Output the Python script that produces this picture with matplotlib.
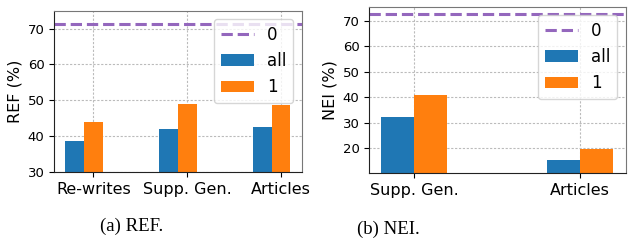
import matplotlib
matplotlib.use("Agg")
import matplotlib.pyplot as plt
import numpy as np

# Left panel (REF)
ref_categories = ["Re-writes", "Supp. Gen.", "Articles"]
ref_all = [38.7, 42.0, 42.6]
ref_one = [44.0, 49.0, 48.7]
ref_zero = 71.2

# Right panel (NEI)
nei_categories = ["Supp. Gen.", "Articles"]
nei_all = [32.3, 15.4]
nei_one = [40.9, 19.7]
nei_zero = 72.5

BLUE = "#1f77b4"
ORANGE = "#ff7f0e"
PURPLE = "#9467bd"

fig = plt.figure(figsize=(6.41, 2.41), dpi=100)
ax1 = fig.add_axes([0.0847, 0.2863, 0.386, 0.6693])
ax2 = fig.add_axes([0.5761, 0.2809, 0.400, 0.6913])


def style(ax):
    ax.set_axisbelow(True)
    ax.grid(True, color="#bbbbbb", linestyle=(0, (2, 1.5)), linewidth=0.8)
    for s in ("top", "right"):
        ax.spines[s].set_color("#777777")
    for s in ("left", "bottom"):
        ax.spines[s].set_color("#222222")
    ax.tick_params(axis="x", labelsize=11.5)
    ax.tick_params(axis="y", labelsize=9.5)


# Left
x1 = np.arange(len(ref_categories))
w = 0.2
ax1.bar(x1 - 0.2, ref_all, width=w, color=BLUE, label="all")
ax1.bar(x1, ref_one, width=w, color=ORANGE, label="1")
ax1.axhline(ref_zero, color=PURPLE, linestyle="--", linewidth=2.2, label="0")
ax1.set_xticks(x1)
ax1.set_xticklabels(ref_categories)
ax1.set_xlim(-0.415, 2.22)
ax1.set_ylim(30, 75)
ax1.set_yticks([30, 40, 50, 60, 70])
ax1.set_ylabel("REF (%)", fontsize=11.5)
style(ax1)
h, l = ax1.get_legend_handles_labels()
order = [l.index("0"), l.index("all"), l.index("1")]
ax1.legend([h[i] for i in order], [l[i] for i in order], loc="upper right", fontsize=12)

# Right
x2 = np.arange(len(nei_categories))
ax2.bar(x2 - 0.1, nei_all, width=w, color=BLUE, label="all")
ax2.bar(x2 + 0.1, nei_one, width=w, color=ORANGE, label="1")
ax2.axhline(nei_zero, color=PURPLE, linestyle="--", linewidth=2.2, label="0")
ax2.set_xticks(x2)
ax2.set_xticklabels(nei_categories)
ax2.set_xlim(-0.27, 1.276)
ax2.set_ylim(10.2, 75.5)
ax2.set_yticks([20, 30, 40, 50, 60, 70])
ax2.set_ylabel("NEI (%)", fontsize=11.5)
style(ax2)
h, l = ax2.get_legend_handles_labels()
order = [l.index("0"), l.index("all"), l.index("1")]
ax2.legend([h[i] for i in order], [l[i] for i in order], loc="upper right", fontsize=12)

# Captions
fig.text(132 / 641, 1 - 226 / 241, "(a) REF.", family="Liberation Serif", fontsize=13.5,
         ha="center", va="center")
fig.text(388 / 641, 1 - 229.5 / 241, "(b) NEI.", family="Liberation Serif", fontsize=13.5,
         ha="center", va="center")

fig.savefig("out.png", dpi=100)
